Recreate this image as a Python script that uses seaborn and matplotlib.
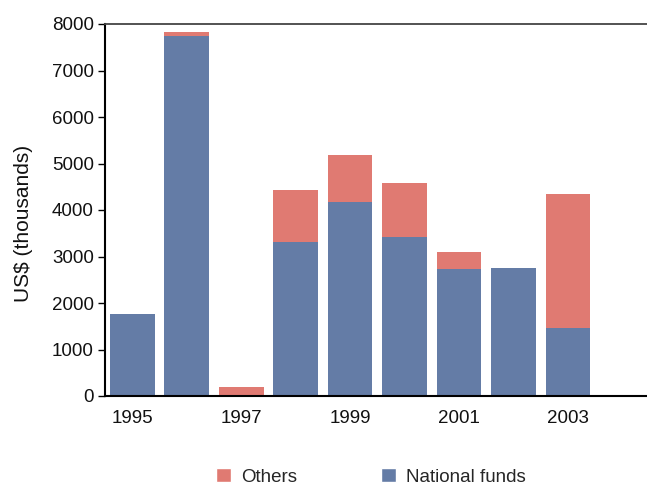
import matplotlib
matplotlib.use("Agg")
import matplotlib.pyplot as plt
import seaborn as sns
import pandas as pd
from matplotlib.patches import Patch

years = ["1995", "1996", "1997", "1998", "1999", "2000", "2001", "2002", "2003"]
national_funds = [1763, 7749, 0, 3318, 4179, 3419, 2731, 2753, 1462]
others = [0, 79, 185, 1112, 1004, 1162, 366, 0, 2882]
tick_labels = ["1995", "1997", "1999", "2001", "2003"]

blue = "#647ca6"
red = "#e07a72"

sns.set_theme(style="white")
plt.rcParams['font.family'] = ['Liberation Sans', 'DejaVu Sans']

df = pd.DataFrame({"year": years, "national": national_funds, "others": others})
df["total"] = df["national"] + df["others"]

fig = plt.figure(figsize=(6.47, 4.83), dpi=100)
W, H = 647, 483
ax = fig.add_axes([105 / W, (H - 396) / H, 572 / W, 372 / H])

sns.barplot(data=df, x="year", y="total", color=red, width=0.82, saturation=1, ax=ax,
            order=years, linewidth=0, edgecolor="none")
sns.barplot(data=df, x="year", y="national", color=blue, width=0.82, saturation=1, ax=ax,
            order=years, linewidth=0, edgecolor="none")

ax.set_xlim(-0.5, 10.0)
ax.set_ylim(0, 8000)
ax.set_yticks(range(0, 8001, 1000))
ax.set_xticks([0, 2, 4, 6, 8])
ax.set_xticklabels(tick_labels)
ax.set_xlabel("")
ax.set_ylabel("US$ (thousands)", fontsize=15)
ax.yaxis.set_label_coords((33 - 105) / 572, (396 - 223) / 372)
ax.tick_params(axis="y", which="both", left=True, length=5, width=1, direction="out", labelsize=13.5, pad=3, color="black")
ax.tick_params(axis="x", bottom=False, labelsize=13.5, pad=4)
for lbl in ax.get_xticklabels() + ax.get_yticklabels():
    lbl.set_color("#111111")
ax.yaxis.label.set_color("#111111")

for s in ["left", "bottom"]:
    ax.spines[s].set_color("black")
    ax.spines[s].set_linewidth(1.5)
ax.spines["top"].set_color("#444444")
ax.spines["top"].set_linewidth(1.3)
ax.spines["right"].set_visible(False)

handles = [Patch(facecolor=red, label="Others"), Patch(facecolor=blue, label="National funds")]
fig.legend(handles=handles, loc="upper left", bbox_to_anchor=(216 / W, 1 - 468 / H), ncol=2,
           frameon=False, fontsize=13.5, handlelength=0.8, handleheight=0.8, handletextpad=0.55,
           columnspacing=4.45, borderpad=0, borderaxespad=0)

fig.savefig("out.png", dpi=100)
